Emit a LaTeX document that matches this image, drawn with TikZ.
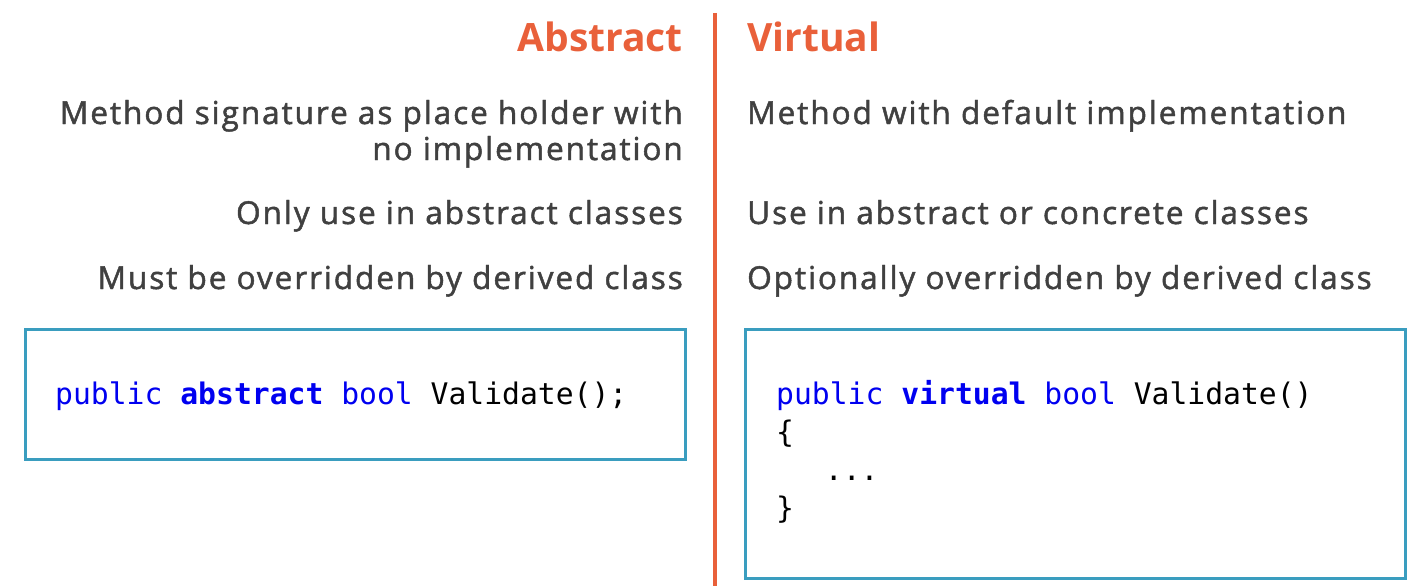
\documentclass[tikz,border=0pt]{standalone}
\usepackage{fontspec}
\setmainfont{Open Sans}
\setmonofont{DejaVu Sans Mono}
\newfontfamily\bodyfont[LetterSpace=6,FakeBold=1.5]{Open Sans}
\usepackage{tikz}
\definecolor{psorange}{HTML}{E9603A}
\definecolor{bodygray}{HTML}{404040}
\definecolor{boxteal}{HTML}{3A9DBF}
\definecolor{codeblue}{HTML}{0000F0}
\tikzset{
  head/.style={text=psorange,font=\fontsize{39}{44}\selectfont\bfseries,inner sep=0pt},
  body/.style={text=bodygray,font=\fontsize{31.6}{36}\selectfont\bodyfont,inner sep=0pt},
  code/.style={font=\fontsize{29.7}{38}\selectfont\ttfamily,inner sep=0pt,anchor=base west},
  codebox/.style={draw=boxteal,line width=3pt},
}
\newcommand{\kw}[1]{\textcolor{codeblue}{#1}}
\newcommand{\kwb}[1]{\textcolor{codeblue}{\bfseries #1}}
\begin{document}
\begin{tikzpicture}[x=1pt,y=-1pt]
\useasboundingbox (0,0) rectangle (1420,586);

%Straight Lines (divider)
\draw [psorange,line width=3.5pt] (715,13) -- (715,586) ;
%Shape: Rectangle (abstract code)
\draw [codebox] (25,329) rectangle (685,459) ;
%Shape: Rectangle (virtual code)
\draw [codebox] (745,329) rectangle (1405,578) ;

% Text Node
\node [head,anchor=base east] (absHead) at (683,52) {Abstract};
% Text Node
\node [head,anchor=base west] (virHead) at (747,52) {Virtual};

% Text Node
\node [body,anchor=base east] (absSigA) at (683,124) {Method signature as place holder with};
% Text Node
\node [body,anchor=base east] (absSigB) at (683,160) {no implementation};
% Text Node
\node [body,anchor=base east] (absUse) at (683,224) {Only use in abstract classes};
% Text Node
\node [body,anchor=base east] (absOver) at (683,289) {Must be overridden by derived class};

% Text Node
\node [body,anchor=base west] (virSig) at (747,124) {Method with default implementation};
% Text Node
\node [body,anchor=base west] (virUse) at (747,224) {Use in abstract or concrete classes};
% Text Node
\node [body,anchor=base west] (virOver) at (747,289) {Optionally overridden by derived class};

% Code Node
\node [code] (absCode) at (55,404) {\kw{public} \kwb{abstract} \kw{bool} Validate();};
% Code Node
\node [code] (virCodeA) at (776,404) {\kw{public} \kwb{virtual} \kw{bool} Validate()};
% Code Node
\node [code] (virCodeB) at (776,442) {\{};
% Code Node
\node [code] (virCodeC) at (776,480) {\hspace*{3ex}...};
% Code Node
\node [code] (virCodeD) at (776,518) {\}};

\end{tikzpicture}
\end{document}
